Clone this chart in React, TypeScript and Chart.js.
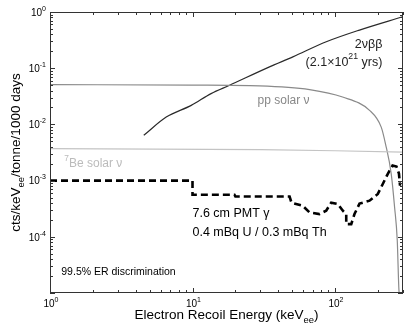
import React, { useEffect, useRef } from "react";
import { Chart, registerables } from "chart.js";

Chart.register(...registerables);

// ---- data ----
const bbEnergy = [4.55, 6.54, 9.8, 13.5, 18.2, 34.7, 50.6, 86.8, 148.6, 299];
const bbRate = [0.0064, 0.0135, 0.0218, 0.0353, 0.0497, 0.1055, 0.159, 0.295, 0.477, 0.824];

const ppEnergy = [1, 10, 29.5, 66.3, 113, 174.7, 211, 226, 248, 262, 273.5, 280.4, 284];
const ppRate = [0.051, 0.05, 0.0485, 0.0417, 0.0307, 0.0178, 0.00895, 0.00452, 0.00132, 0.000333, 0.000085, 0.0000124, 0.000008];

const be7Energy = [1, 30, 100, 300];
const be7Rate = [0.0037, 0.00355, 0.0034, 0.0032];

const pmtEnergy = [1, 10, 10, 19.7, 20, 48, 49.5, 59.2, 66.2, 77.8, 86.7, 94, 104.6, 113.5, 119.9, 119.9, 130, 137, 148.6, 174.7, 199.7, 216.4, 234.7, 253.4, 270, 281, 286];
const pmtRate = [0.001, 0.001, 0.00056, 0.00056, 0.00052, 0.00052, 0.000405, 0.000358, 0.000272, 0.000254, 0.000291, 0.000405, 0.000383, 0.000291, 0.000254, 0.000168, 0.000168, 0.000254, 0.00039, 0.00044, 0.00058, 0.00087, 0.00132, 0.00185, 0.00178, 0.00133, 0.00081];

const xMin = 1;
const xMax = 300;
const yMin = 1e-5;
const yMax = 1;
const xTickLabels = ["0", "1", "2"];
const yTickLabels = ["0", "-1", "-2", "-3", "-4"];

const FONT = "'Liberation Sans', Arial, Helvetica, sans-serif";

type Seg = { t: string; k?: "sup" | "sub" };

function segSize(size: number, k?: string) {
  return k ? size * 0.7 : size;
}

function measure(ctx: CanvasRenderingContext2D, segs: Seg[], size: number) {
  let w = 0;
  for (const s of segs) {
    ctx.font = `${segSize(size, s.k)}px ${FONT}`;
    w += ctx.measureText(s.t).width;
  }
  return w;
}

function drawRich(
  ctx: CanvasRenderingContext2D,
  segs: Seg[],
  x: number,
  y: number,
  size: number,
  align: "left" | "right" | "center",
  color: string
) {
  const w = measure(ctx, segs, size);
  let cx = align === "right" ? x - w : align === "center" ? x - w / 2 : x;
  ctx.textBaseline = "middle";
  ctx.textAlign = "left";
  ctx.fillStyle = color;
  for (const s of segs) {
    ctx.font = `${segSize(size, s.k)}px ${FONT}`;
    const dy = s.k === "sup" ? -size * 0.42 : s.k === "sub" ? size * 0.38 : 0;
    ctx.fillText(s.t, cx, y + dy);
    cx += ctx.measureText(s.t).width;
  }
}

const annotations: { segs: Seg[]; x: number; y: number; align: "left" | "right"; size: number; color: string }[] = [
  { segs: [{ t: "2νββ" }], x: 215, y: 0.268, align: "right", size: 12.5, color: "#222" },
  { segs: [{ t: "(2.1×10" }, { t: "21", k: "sup" }, { t: " yrs)" }], x: 215, y: 0.128, align: "right", size: 12.5, color: "#222" },
  { segs: [{ t: "pp solar ν" }], x: 28.6, y: 0.0268, align: "left", size: 12, color: "#888" },
  { segs: [{ t: "7", k: "sup" }, { t: "Be solar ν" }], x: 1.26, y: 0.00201, align: "left", size: 12, color: "#bbb" },
  { segs: [{ t: "7.6 cm PMT γ" }], x: 10, y: 0.000257, align: "left", size: 12.5, color: "#000" },
  { segs: [{ t: "0.4 mBq U / 0.3 mBq Th" }], x: 10, y: 0.000118, align: "left", size: 12.5, color: "#000" },
  { segs: [{ t: "99.5% ER discrimination" }], x: 1.2, y: 0.0000237, align: "left", size: 10.5, color: "#000" },
];

const framePlugin = {
  id: "framePlugin",
  afterDatasetsDraw(chart: any) {
    const ctx: CanvasRenderingContext2D = chart.ctx;
    const { left, right, top, bottom } = chart.chartArea;
    const xs = chart.scales.x;
    const ys = chart.scales.y;
    ctx.save();
    ctx.strokeStyle = "#333";
    ctx.lineWidth = 1;
    ctx.strokeRect(Math.round(left) + 0.5, Math.round(top) + 0.5, Math.round(right) - Math.round(left) - 1, Math.round(bottom) - Math.round(top) - 1);
    ctx.beginPath();
    for (let d = xMin; d <= xMax; d *= 10) {
      for (let m = 1; m <= 9; m++) {
        const v = m * d;
        if (v > xMax) break;
        const px = Math.round(xs.getPixelForValue(v)) + 0.5;
        const len = m === 1 ? 5 : 3;
        ctx.moveTo(px, bottom);
        ctx.lineTo(px, bottom - len);
        ctx.moveTo(px, top);
        ctx.lineTo(px, top + len);
      }
    }
    for (let d = yMin; d <= yMax * 1.0001; d *= 10) {
      for (let m = 1; m <= 9; m++) {
        const v = m * d;
        if (v > yMax * 1.0001) break;
        const py = Math.round(ys.getPixelForValue(v)) + 0.5;
        const len = m === 1 ? 5 : 3;
        ctx.moveTo(left, py);
        ctx.lineTo(left + len, py);
        ctx.moveTo(right, py);
        ctx.lineTo(right - len, py);
      }
    }
    ctx.stroke();
    ctx.restore();
  },
  afterDraw(chart: any) {
    const ctx: CanvasRenderingContext2D = chart.ctx;
    const { left, right, top, bottom } = chart.chartArea;
    const xs = chart.scales.x;
    const ys = chart.scales.y;
    ctx.save();
    xTickLabels.forEach((e) => {
      const px = xs.getPixelForValue(Math.pow(10, Number(e)));
      drawRich(ctx, [{ t: "10" }, { t: e, k: "sup" }], px + 1, bottom + 11, 10, "center", "#000");
    });
    yTickLabels.forEach((e) => {
      const py = ys.getPixelForValue(Math.pow(10, Number(e)));
      drawRich(ctx, [{ t: "10" }, { t: e, k: "sup" }], left - 4, py + 1, 10, "right", "#000");
    });
    drawRich(
      ctx,
      [{ t: "Electron Recoil Energy (keV" }, { t: "ee", k: "sub" }, { t: ")" }],
      (left + right) / 2,
      bottom + 22,
      13.5,
      "center",
      "#000"
    );
    ctx.save();
    ctx.translate(16, (top + bottom) / 2);
    ctx.rotate(-Math.PI / 2);
    drawRich(ctx, [{ t: "cts/keV" }, { t: "ee", k: "sub" }, { t: "/tonne/1000 days" }], 0, 0, 13.5, "center", "#000");
    ctx.restore();
    annotations.forEach((a) => {
      drawRich(ctx, a.segs, xs.getPixelForValue(a.x), ys.getPixelForValue(a.y), a.size, a.align, a.color);
    });
    ctx.restore();
  },
};

function pts(xs: number[], ys: number[]) {
  return xs.map((x, i) => ({ x, y: ys[i] }));
}

export default function App() {
  const ref = useRef<HTMLCanvasElement | null>(null);
  useEffect(() => {
    if (!ref.current) return;
    const chart = new Chart(ref.current, {
      type: "line",
      data: {
        datasets: [
          { label: "7Be", data: pts(be7Energy, be7Rate), borderColor: "#c4c4c4", borderWidth: 1.2, pointRadius: 0, tension: 0 },
          { label: "pp", data: pts(ppEnergy, ppRate), borderColor: "#8a8a8a", borderWidth: 1.2, pointRadius: 0, cubicInterpolationMode: "monotone" },
          { label: "2vbb", data: pts(bbEnergy, bbRate), borderColor: "#2a2a2a", borderWidth: 1.2, pointRadius: 0, cubicInterpolationMode: "monotone" },
          { label: "PMT", data: pts(pmtEnergy, pmtRate), borderColor: "#000", borderWidth: 2.6, borderDash: [7, 4], pointRadius: 0, tension: 0 },
        ],
      },
      options: {
        responsive: false,
        animation: false,
        events: [],
        layout: { padding: { left: 50, top: 12, right: 4, bottom: 35 } },
        plugins: { legend: { display: false }, tooltip: { enabled: false }, title: { display: false } },
        scales: {
          x: { type: "logarithmic", min: xMin, max: xMax, display: false },
          y: { type: "logarithmic", min: yMin, max: yMax, display: false },
        },
      },
      plugins: [framePlugin],
    } as any);
    return () => chart.destroy();
  }, []);
  return (
    <div style={{ position: "fixed", left: 0, top: 0, width: 407, height: 328, background: "#fff" }}>
      <canvas ref={ref} width={407} height={328} style={{ width: 407, height: 328, display: "block" }} />
    </div>
  );
}
